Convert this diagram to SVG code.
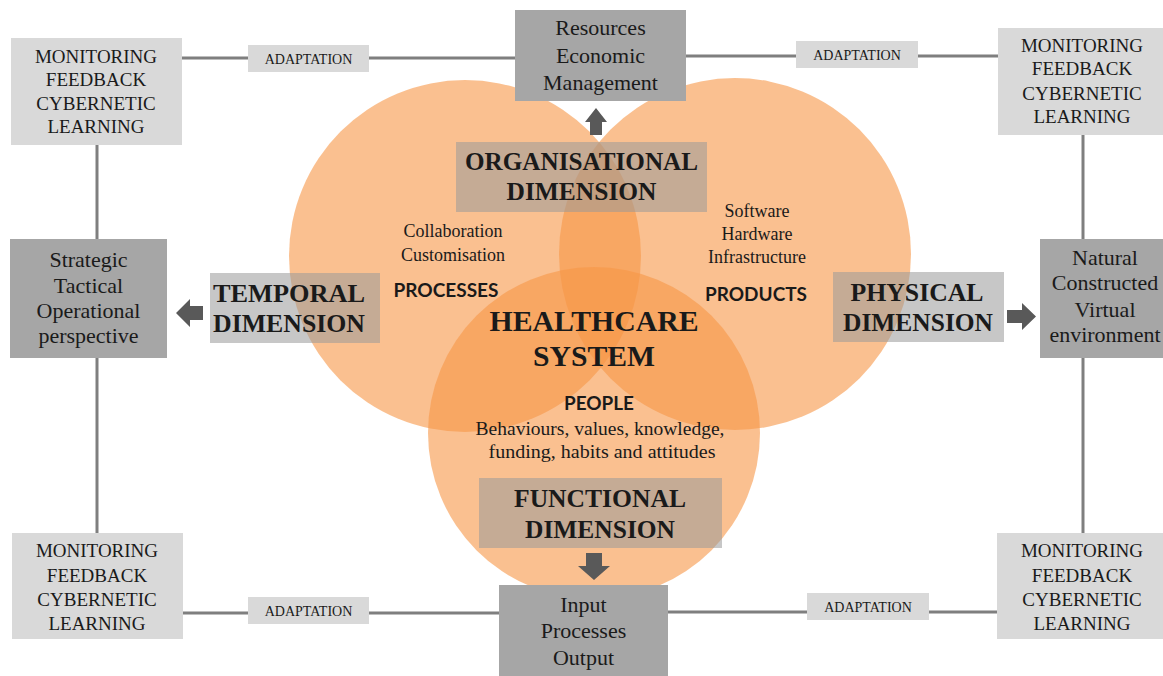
<svg xmlns="http://www.w3.org/2000/svg" width="1163" height="676" viewBox="0 0 1163 676">
<style>
.lt{fill:#d9d9d9}
.dk{fill:#a6a6a6}
.dim{fill:#999999;fill-opacity:0.55}
.circ{fill:#f79646;fill-opacity:0.6}
.ln{stroke:#7f7f7f;stroke-width:3;fill:none}
.arr{fill:#595959}
.s{font-family:"Liberation Serif","Times New Roman",serif;fill:#1a1a1a;text-anchor:middle}
.m{font-size:19px}
.a{font-size:14px}
.b{font-size:22px}
.d{font-size:26px;font-weight:bold}
.h{font-size:29px;font-weight:bold}
.t{font-size:18px}
.k{font-family:Lato,"Open Sans","Liberation Sans",sans-serif;font-weight:bold;font-size:18px;fill:#1a1a1a;text-anchor:middle}
</style>
<g id="circles">
<circle class="circ" cx="465" cy="256" r="176"/>
<circle class="circ" cx="735" cy="254" r="176"/>
<circle class="circ" cx="594" cy="433" r="166"/>
</g>
<g id="connectors">
<line class="ln" x1="182" y1="58" x2="248" y2="58"/>
<line class="ln" x1="369" y1="58" x2="515" y2="58"/>
<line class="ln" x1="686" y1="56" x2="796" y2="56"/>
<line class="ln" x1="918" y1="56" x2="998" y2="56"/>
<line class="ln" x1="97" y1="145" x2="97" y2="239"/>
<line class="ln" x1="97" y1="358" x2="97" y2="533"/>
<line class="ln" x1="1083" y1="135" x2="1083" y2="239"/>
<line class="ln" x1="1083" y1="358" x2="1083" y2="533"/>
<line class="ln" x1="183" y1="613" x2="248" y2="613"/>
<line class="ln" x1="369" y1="613" x2="499" y2="613"/>
<line class="ln" x1="668" y1="612" x2="807" y2="612"/>
<line class="ln" x1="929" y1="612" x2="997" y2="612"/>
<polygon class="arr" points="596,108 607,122 602,122 602,135 590,135 590,122 585,122"/>
<polygon class="arr" points="176,313 190,299 190,306 203,306 203,320 190,320 190,327"/>
<polygon class="arr" points="1036,316.5 1022,303 1022,310 1007,310 1007,323 1022,323 1022,330"/>
<polygon class="arr" points="594,580 610,566 602,566 602,553 586,553 586,566 578,566"/>
</g>
<g id="mon-tl">
<rect class="lt" x="11" y="38" width="171" height="107"/>
<text class="s m" x="96" y="63">MONITORING</text>
<text class="s m" x="96" y="86">FEEDBACK</text>
<text class="s m" x="96" y="110">CYBERNETIC</text>
<text class="s m" x="96" y="133">LEARNING</text>
</g>
<g id="mon-tr">
<rect class="lt" x="998" y="28" width="170" height="107"/>
<text class="s m" x="1082" y="52">MONITORING</text>
<text class="s m" x="1082" y="75">FEEDBACK</text>
<text class="s m" x="1082" y="100">CYBERNETIC</text>
<text class="s m" x="1082" y="123">LEARNING</text>
</g>
<g id="mon-bl">
<rect class="lt" x="12" y="533" width="171" height="106"/>
<text class="s m" x="97" y="557">MONITORING</text>
<text class="s m" x="97" y="582">FEEDBACK</text>
<text class="s m" x="97" y="606">CYBERNETIC</text>
<text class="s m" x="97" y="630">LEARNING</text>
</g>
<g id="mon-br">
<rect class="lt" x="997" y="533" width="171" height="106"/>
<text class="s m" x="1082" y="557">MONITORING</text>
<text class="s m" x="1082" y="582">FEEDBACK</text>
<text class="s m" x="1082" y="606">CYBERNETIC</text>
<text class="s m" x="1082" y="630">LEARNING</text>
</g>
<g id="adapt-tl">
<rect class="lt" x="248" y="45" width="121" height="27"/>
<text class="s a" x="308.5" y="63.5">ADAPTATION</text>
</g>
<g id="adapt-tr">
<rect class="lt" x="796" y="41" width="122" height="27"/>
<text class="s a" x="857" y="60">ADAPTATION</text>
</g>
<g id="adapt-bl">
<rect class="lt" x="248" y="597" width="121" height="27"/>
<text class="s a" x="308.5" y="616">ADAPTATION</text>
</g>
<g id="adapt-br">
<rect class="lt" x="807" y="593" width="122" height="27"/>
<text class="s a" x="868" y="612">ADAPTATION</text>
</g>
<g id="resources">
<rect class="dk" x="515" y="10" width="171" height="91"/>
<text class="s b" x="600.5" y="35">Resources</text>
<text class="s b" x="600.5" y="63">Economic</text>
<text class="s b" x="600.5" y="90">Management</text>
</g>
<g id="strategic">
<rect class="dk" x="10" y="239" width="157" height="119"/>
<text class="s b" x="88.5" y="267">Strategic</text>
<text class="s b" x="88.5" y="293">Tactical</text>
<text class="s b" x="88.5" y="318">Operational</text>
<text class="s b" x="88.5" y="343">perspective</text>
</g>
<g id="natural">
<rect class="dk" x="1040" y="239" width="130" height="119"/>
<text class="s b" x="1105" y="265">Natural</text>
<text class="s b" x="1105" y="290">Constructed</text>
<text class="s b" x="1105" y="317">Virtual</text>
<text class="s b" x="1105" y="342">environment</text>
</g>
<g id="input">
<rect class="dk" x="499" y="585" width="169" height="95"/>
<text class="s b" x="583.5" y="612">Input</text>
<text class="s b" x="583.5" y="638">Processes</text>
<text class="s b" x="583.5" y="665">Output</text>
</g>
<g id="organisational">
<rect class="dim" x="456" y="142" width="251" height="70"/>
<text class="s d" x="581.5" y="170" textLength="233" lengthAdjust="spacingAndGlyphs">ORGANISATIONAL</text>
<text class="s d" x="581.5" y="200" textLength="150" lengthAdjust="spacingAndGlyphs">DIMENSION</text>
</g>
<g id="temporal">
<rect class="dim" x="210" y="273" width="170" height="70"/>
<text class="s d" x="289" y="302" textLength="152" lengthAdjust="spacingAndGlyphs">TEMPORAL</text>
<text class="s d" x="289" y="332" textLength="152" lengthAdjust="spacingAndGlyphs">DIMENSION</text>
</g>
<g id="physical">
<rect class="dim" x="833" y="272" width="171" height="70"/>
<text class="s d" x="917" y="301" textLength="133" lengthAdjust="spacingAndGlyphs">PHYSICAL</text>
<text class="s d" x="918" y="331" textLength="150" lengthAdjust="spacingAndGlyphs">DIMENSION</text>
</g>
<g id="functional">
<rect class="dim" x="479" y="478" width="243" height="70"/>
<text class="s d" x="600" y="507" textLength="172" lengthAdjust="spacingAndGlyphs">FUNCTIONAL</text>
<text class="s d" x="600" y="538" textLength="150" lengthAdjust="spacingAndGlyphs">DIMENSION</text>
</g>
<g id="processes">
<text class="s t" x="453" y="237">Collaboration</text>
<text class="s t" x="453" y="261">Customisation</text>
<text class="k" x="446" y="297" textLength="105" lengthAdjust="spacingAndGlyphs">PROCESSES</text>
</g>
<g id="products">
<text class="s t" x="757" y="217">Software</text>
<text class="s t" x="757" y="240">Hardware</text>
<text class="s t" x="757" y="263">Infrastructure</text>
<text class="k" x="756" y="301" textLength="102" lengthAdjust="spacingAndGlyphs">PRODUCTS</text>
</g>
<g id="healthcare">
<text class="s h" x="594" y="331" textLength="209" lengthAdjust="spacingAndGlyphs">HEALTHCARE</text>
<text class="s h" x="594" y="366" textLength="122" lengthAdjust="spacingAndGlyphs">SYSTEM</text>
</g>
<g id="people">
<text class="k" x="599" y="410" textLength="70" lengthAdjust="spacingAndGlyphs">PEOPLE</text>
<text class="s t" x="600" y="435" textLength="249" lengthAdjust="spacingAndGlyphs">Behaviours, values, knowledge,</text>
<text class="s t" x="602" y="458" textLength="227" lengthAdjust="spacingAndGlyphs">funding, habits and attitudes</text>
</g>
</svg>
